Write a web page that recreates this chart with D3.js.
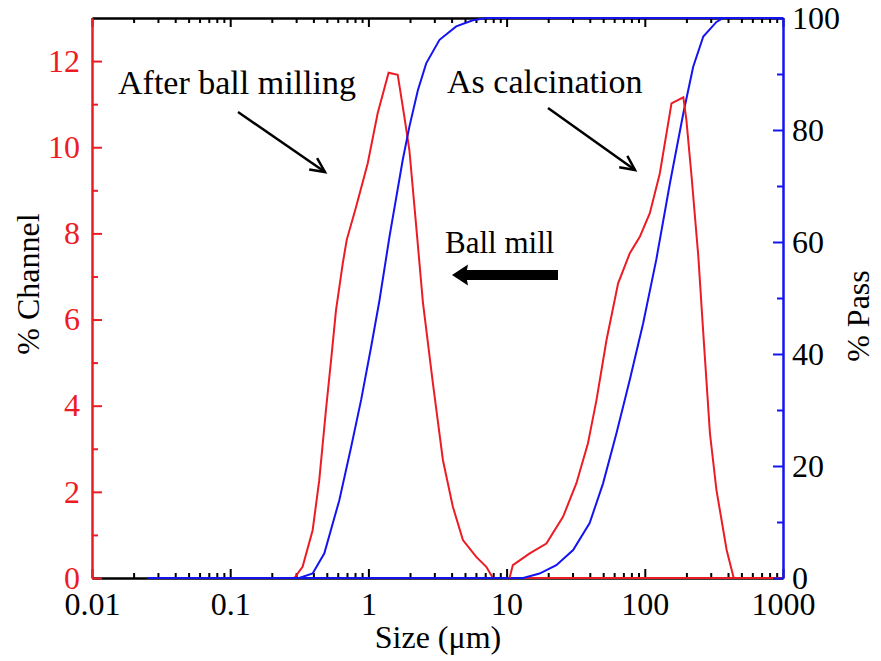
<!DOCTYPE html>
<html>
<head>
<meta charset="utf-8">
<script src="https://cdn.jsdelivr.net/npm/d3@7/dist/d3.min.js"></script>
<style>
  html, body { margin: 0; padding: 0; background: #fff; }
  svg text { font-family: "Liberation Serif", "Times New Roman", Tinos, "DejaVu Serif", serif !important; }
</style>
</head>
<body>
<svg id="chart" width="881" height="661"></svg>
<script>
// Particle size distributions: % per channel (left axis) and cumulative % passing (right axis)

// After ball milling — channel percentage
const sizeMilledChannel = [0.0251, 0.291, 0.334, 0.395, 0.441, 0.493, 0.537, 0.583, 0.652, 0.697, 0.815, 0.989, 1.167, 1.40, 1.63, 1.82, 1.98, 2.22, 2.48, 2.93, 3.46, 4.08, 4.83, 6.03, 7.13, 7.96, 1000];
const milledChannel     = [0, 0, 0.26, 1.11, 2.27, 3.9, 5.06, 6.22, 7.30, 7.85, 8.62, 9.63, 10.79, 11.73, 11.68, 10.71, 9.93, 8.15, 6.4, 4.52, 2.74, 1.66, 0.88, 0.49, 0.26, 0, 0];

// After ball milling — cumulative passing
const sizeMilledPass = [0.0251, 0.316, 0.395, 0.480, 0.616, 0.750, 0.886, 1.047, 1.203, 1.42, 1.77, 1.98, 2.28, 2.62, 3.27, 4.32, 5.70, 7.13, 1000];
const milledPass     = [0, 0, 0.8, 4.4, 13.9, 23.4, 31.8, 41.3, 49.6, 60.9, 74.6, 80.6, 87.1, 91.9, 96.1, 98.5, 99.6, 100, 100];

// As calcination — channel percentage
const sizeCalcinedChannel = [10.5, 11.1, 14.7, 19.4, 25.6, 32, 38.8, 44.7, 52.8, 64.1, 77.9, 92, 108.7, 128.4, 156, 190, 200, 218, 244, 265, 296, 330, 391, 440, 1000];
const calcinedChannel     = [0, 0.3, 0.57, 0.80, 1.42, 2.2, 3.13, 4.13, 5.52, 6.84, 7.54, 7.92, 8.47, 9.39, 11.02, 11.16, 10.63, 9.32, 7.46, 5.68, 3.36, 2.04, 0.65, 0, 0];

// As calcination — cumulative passing
const sizeCalcinedPass = [0.0251, 13.2, 17.3, 22.9, 30.3, 39.9, 49.9, 62.3, 77.9, 97.3, 121, 152, 190, 224, 265, 330, 370, 1000];
const calcinedPass     = [0, 0, 0.8, 2.3, 5, 9.8, 16.9, 25.8, 35.4, 45.5, 56.8, 70.5, 83, 91.3, 96.7, 99.3, 100, 100];

// Axis ticks
const sizeTicks = [0.01, 0.1, 1, 10, 100, 1000];
const sizeTickLabels = ["0.01", "0.1", "1", "10", "100", "1000"];
const channelTicks = [0, 2, 4, 6, 8, 10, 12];
const channelMinorTicks = [1, 3, 5, 7, 9, 11];
const passTicks = [0, 20, 40, 60, 80, 100];
const passMinorTicks = [10, 30, 50, 70, 90];

const RED = "#ec1c24";
const BLUE = "#1414f0";
const SERIF = '"Liberation Serif", "Times New Roman", Tinos, "DejaVu Serif", serif';
const TICK_FONT = 32;

const svg = d3.select("#chart");
const plotLeft = 92, plotRight = 783, plotTop = 18, plotBottom = 578;

const x = d3.scaleLog().domain([0.01, 1000]).range([plotLeft, plotRight]);
const yC = d3.scaleLinear().domain([0, 13]).range([plotBottom, plotTop]);
const yP = d3.scaleLinear().domain([0, 100]).range([plotBottom, plotTop]);

const minorSize = x.ticks().filter(v => !sizeTicks.some(t => Math.abs(t - v) / t < 1e-9));

function styleAxis(g, color, textColor) {
  g.attr("font-family", SERIF);
  g.select(".domain").attr("stroke", color).attr("stroke-width", 2);
  g.selectAll(".tick line").attr("stroke", color).attr("stroke-width", 2);
  g.selectAll(".tick text").attr("fill", textColor).attr("font-size", TICK_FONT).attr("font-family", SERIF);
}

function label(x0, y0, txt, size, anchor, rotate) {
  const t = svg.append("text").attr("font-family", SERIF).attr("font-size", size)
    .attr("fill", "#000").attr("text-anchor", anchor || "start").text(txt);
  if (rotate) t.attr("transform", `translate(${x0},${y0}) rotate(${rotate})`);
  else t.attr("x", x0).attr("y", y0);
  return t;
}

// Bottom axis (black, inward ticks)
const gB = svg.append("g").attr("transform", `translate(0,${plotBottom})`)
  .call(d3.axisBottom(x).tickValues(sizeTicks).tickFormat((d, i) => sizeTickLabels[i])
    .tickSizeInner(-9).tickSizeOuter(0).tickPadding(14));
styleAxis(gB, "#000", "#000");
const gBm = svg.append("g").attr("transform", `translate(0,${plotBottom})`)
  .call(d3.axisBottom(x).tickValues(minorSize).tickFormat("").tickSizeInner(-5).tickSizeOuter(0));
styleAxis(gBm, "#000", "#000");

// Top axis (black, inward ticks, no labels)
const gT = svg.append("g").attr("transform", `translate(0,${plotTop})`)
  .call(d3.axisTop(x).tickValues(sizeTicks).tickFormat("").tickSizeInner(-9).tickSizeOuter(0));
styleAxis(gT, "#000", "#000");
const gTm = svg.append("g").attr("transform", `translate(0,${plotTop})`)
  .call(d3.axisTop(x).tickValues(minorSize).tickFormat("").tickSizeInner(-5).tickSizeOuter(0));
styleAxis(gTm, "#000", "#000");

// Data curves
const line = d3.line().x(d => x(d[0])).y(d => d[1]);
function drawCurve(sizes, values, yScale, color) {
  const pts = sizes.map((s, i) => [s, yScale(values[i])]);
  svg.append("path").datum(pts).attr("d", line)
    .attr("fill", "none").attr("stroke", color).attr("stroke-width", 2)
    .attr("stroke-linejoin", "miter");
}
drawCurve(sizeMilledChannel, milledChannel, yC, RED);
drawCurve(sizeMilledPass, milledPass, yP, BLUE);
drawCurve(sizeCalcinedPass, calcinedPass, yP, BLUE);
drawCurve(sizeCalcinedChannel, calcinedChannel, yC, RED);

// Left axis: % Channel (red)
const gL = svg.append("g").attr("transform", `translate(${plotLeft},0)`)
  .call(d3.axisLeft(yC).tickValues(channelTicks).tickSizeInner(-10).tickSizeOuter(0).tickPadding(12));
styleAxis(gL, RED, RED);
const gLm = svg.append("g").attr("transform", `translate(${plotLeft},0)`)
  .call(d3.axisLeft(yC).tickValues(channelMinorTicks).tickFormat("").tickSizeInner(-6).tickSizeOuter(0));
styleAxis(gLm, RED, RED);

// Right axis: % Pass (blue line, black labels)
const gR = svg.append("g").attr("transform", `translate(${plotRight},0)`)
  .call(d3.axisRight(yP).tickValues(passTicks).tickSizeInner(-10).tickSizeOuter(0).tickPadding(9));
styleAxis(gR, BLUE, "#000");
const gRm = svg.append("g").attr("transform", `translate(${plotRight},0)`)
  .call(d3.axisRight(yP).tickValues(passMinorTicks).tickFormat("").tickSizeInner(-6).tickSizeOuter(0));
styleAxis(gRm, BLUE, "#000");

// Axis titles
label(39, 284, "% Channel", 32, "middle", -90);
label(869, 316, "% Pass", 32, "middle", -90);
label(438, 648, "Size (μm)", 32, "middle");

// Annotations
label(118, 94, "After ball milling", 34);
label(447, 93, "As calcination", 34);
label(445, 253, "Ball mill", 31);

function thinArrow(x1, y1, x2, y2) {
  svg.append("line").attr("x1", x1).attr("y1", y1).attr("x2", x2).attr("y2", y2)
    .attr("stroke", "#000").attr("stroke-width", 2.5);
  const ang = Math.atan2(y2 - y1, x2 - x1), L = 16, spread = 0.45;
  const p = [
    [x2 - L * Math.cos(ang - spread), y2 - L * Math.sin(ang - spread)],
    [x2, y2],
    [x2 - L * Math.cos(ang + spread), y2 - L * Math.sin(ang + spread)]
  ];
  svg.append("path").attr("d", d3.line()(p)).attr("fill", "none")
    .attr("stroke", "#000").attr("stroke-width", 2.5).attr("stroke-linejoin", "miter");
}
thinArrow(238, 112, 325, 172);
thinArrow(548, 108, 635, 170);

// Thick arrow pointing toward smaller sizes
svg.append("rect").attr("x", 464).attr("y", 270).attr("width", 94).attr("height", 10).attr("fill", "#000");
svg.append("path").attr("d", "M452,275 L468,264.5 L466,275 L468,285.5 Z").attr("fill", "#000");
</script>
</body>
</html>
